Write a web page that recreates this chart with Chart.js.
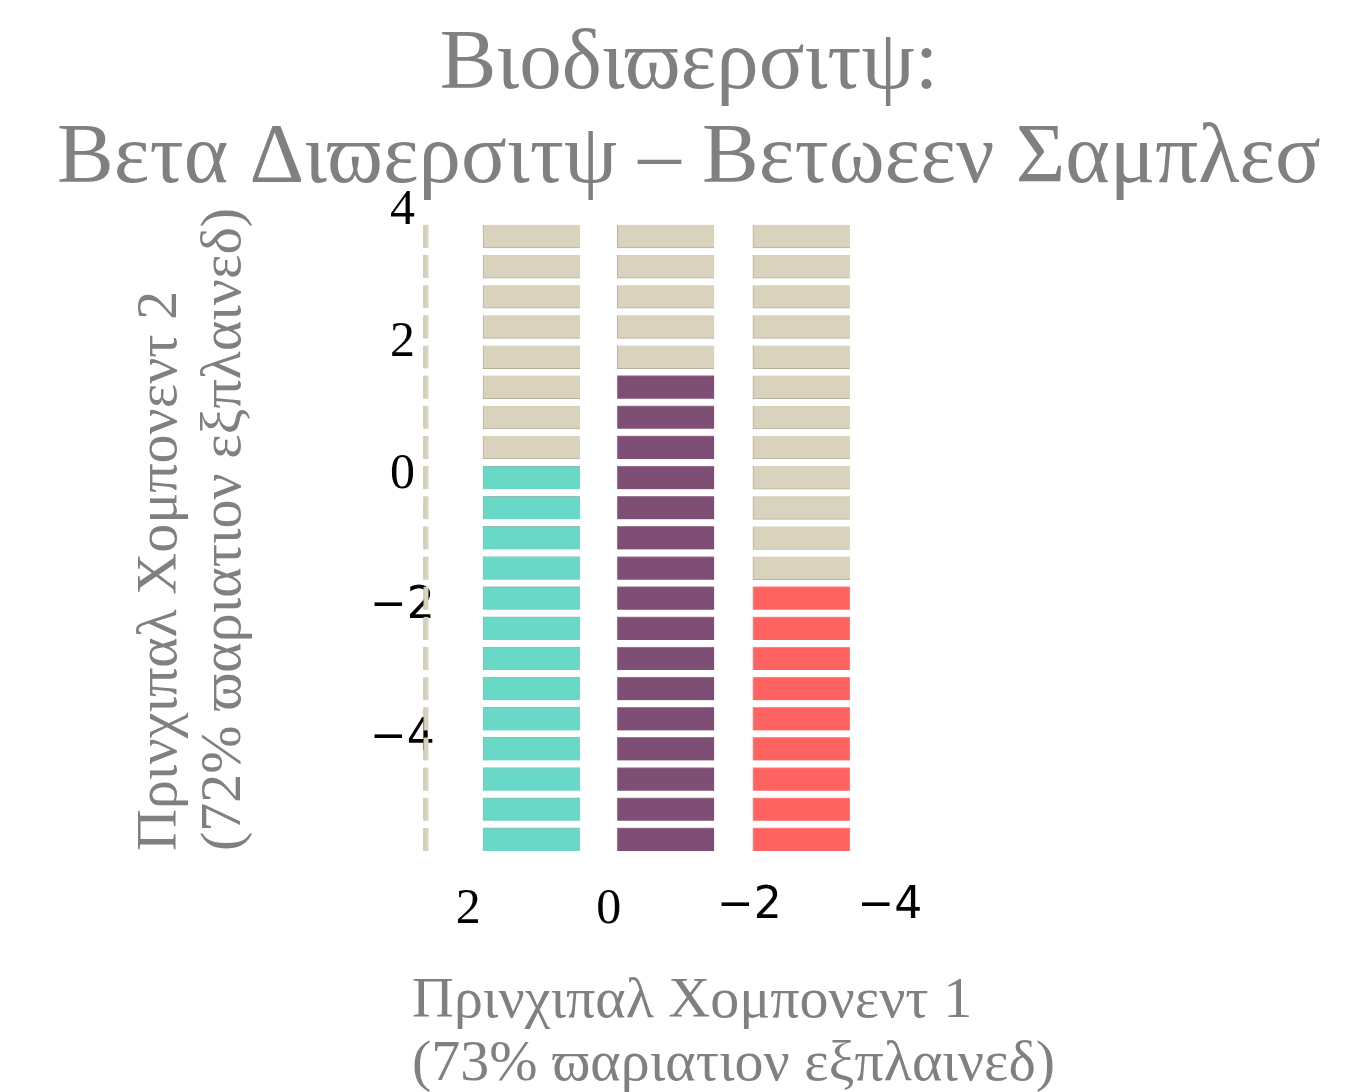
<!DOCTYPE html>
<html>
<head>
<meta charset="utf-8">
<script src="https://cdn.jsdelivr.net/npm/chart.js@4/dist/chart.umd.min.js"></script>
<style>
  html, body { margin: 0; padding: 0; background: #ffffff; }
  #wrap { width: 1351px; height: 1092px; position: relative; }
</style>
</head>
<body>
<div id="wrap"><canvas id="c"></canvas></div>
<script>
// ---- data ----
const titleLines  = ['Βιοδιϖερσιτψ:', 'Βετα Διϖερσιτψ – Βετωεεν Σαμπλεσ'];
const xTitleLines = ['Πρινχιπαλ Χομπονεντ 1', '(73% ϖαριατιον εξπλαινεδ)'];
const yTitleLines = ['Πρινχιπαλ Χομπονεντ 2', '(72% ϖαριατιον εξπλαινεδ)'];

const sampleX   = [2.6, 1.1, -0.81, -2.74];  // PC1 position of each column
const baseRows  = [21, 8, 5, 12];           // beige rows (from the top) in each column
const groupRows = [0, 13, 16, 9];           // coloured rows below them

const rowTop  = 3.79;   // PC2 value at the top of the first row
const rowStep = 0.457;  // PC2 distance between rows
const rowSize = 0.35;   // PC2 height of one row block

const xTicks = [2, 0, -2, -4];
const yTicks = [4, 2, 0, -2, -4];

// ---- styles ----
const SERIF = "'Liberation Serif', 'DejaVu Serif', serif";
const SANS  = "'DejaVu Sans', 'Liberation Sans', sans-serif";
const GREY  = '#808080';
const BASE_COLOR  = '#d9d2bc';
const BASE_EDGE   = '#b7b09d';
const GROUP_COLORS = [null, '#6ad8c6', '#7e4e74', '#ff6361'];
const GROUP_EDGES  = [null, '#8fbdb4', '#9a7a93', '#ff8a88'];

function rowRange(r) {
  const hi = rowTop - r * rowStep;
  return [hi - rowSize, hi];
}

function segments(col, from, count) {
  const out = [];
  for (let r = from; r < from + count; r++) out.push({ x: sampleX[col], y: rowRange(r) });
  return out;
}

const datasets = [];
// narrow beige column
datasets.push({
  data: segments(0, 0, baseRows[0]),
  backgroundColor: BASE_COLOR, borderColor: BASE_EDGE,
  borderWidth: { left: 1, right: 0, top: 0, bottom: 0 }, borderSkipped: false,
  barThickness: 5, xAxisID: 'x', yAxisID: 'y'
});
// beige part of the wide columns
let baseData = [];
for (let c = 1; c < sampleX.length; c++) baseData = baseData.concat(segments(c, 0, baseRows[c]));
datasets.push({
  data: baseData,
  backgroundColor: BASE_COLOR, borderColor: BASE_EDGE,
  borderWidth: { left: 1, right: 0, top: 0, bottom: 1 }, borderSkipped: false,
  barThickness: 97, xAxisID: 'x', yAxisID: 'y'
});
// coloured parts
for (let c = 1; c < sampleX.length; c++) {
  datasets.push({
    data: segments(c, baseRows[c], groupRows[c]),
    backgroundColor: GROUP_COLORS[c], borderColor: GROUP_EDGES[c],
    borderWidth: { left: 1, right: 0, top: 1, bottom: 0 }, borderSkipped: false,
    barThickness: 97, xAxisID: 'x', yAxisID: 'y'
  });
}

function tickFont(ctx) {
  const v = ctx.tick ? ctx.tick.value : 0;
  return { family: v < 0 ? SANS : SERIF, size: v < 0 ? 44 : 50, lineHeight: 1.2 };
}
function tickText(v) {
  return v < 0 ? '\u2212' + Math.abs(v) : String(v);
}

new Chart(document.getElementById('c'), {
  type: 'bar',
  data: { datasets },
  options: {
    responsive: true,
    maintainAspectRatio: false,
    animation: false,
    devicePixelRatio: 1,
    layout: { padding: { left: 27, right: 0, top: 0, bottom: 0 } },
    datasets: { bar: { grouped: false } },
    plugins: {
      legend: { display: false },
      tooltip: { enabled: false },
      title: {
        display: true,
        text: titleLines,
        color: GREY,
        font: { family: SERIF, size: 85, weight: 'normal', lineHeight: 1.1 },
        padding: { top: 19, bottom: 5 }
      }
    },
    scales: {
      x: {
        type: 'linear', position: 'bottom', weight: 0,
        reverse: true, offset: false, min: -10.56, max: 2.8,
        grid: { display: false, drawTicks: false, offset: false },
        border: { display: false },
        afterBuildTicks: s => { s.ticks = xTicks.map(v => ({ value: v })); },
        afterFit: s => { s.height = 87; },
        ticks: { padding: 29, color: '#000000', font: tickFont, callback: v => tickText(v), maxRotation: 0, autoSkip: false }
      },
      xt: {
        type: 'linear', position: 'bottom', weight: 1, display: true, offset: false,
        grid: { display: false, drawTicks: false },
        border: { display: false },
        ticks: { display: false },
        afterFit: s => { s.height = 154; },
        title: {
          display: true, text: xTitleLines, align: 'start', color: GREY,
          font: { family: SERIF, size: 58, weight: 'normal', lineHeight: 1.1 },
          padding: { top: 0, bottom: -5 }
        }
      },
      y: {
        type: 'linear', position: 'left',
        min: -5.7, max: 4,
        grid: { display: false, drawTicks: false },
        border: { display: false },
        afterBuildTicks: s => { s.ticks = yTicks.map(v => ({ value: v })); },
        afterFit: s => { s.width = 385; },
        ticks: { mirror: true, crossAlign: 'center', padding: -42, color: '#000000', font: tickFont, callback: v => tickText(v), autoSkip: false },
        title: {
          display: true, text: yTitleLines, align: 'start', color: GREY,
          font: { family: SERIF, size: 58, weight: 'normal', lineHeight: 1.1 },
          padding: { top: 102, bottom: 0 }
        }
      }
    }
  }
});
</script>
</body>
</html>
